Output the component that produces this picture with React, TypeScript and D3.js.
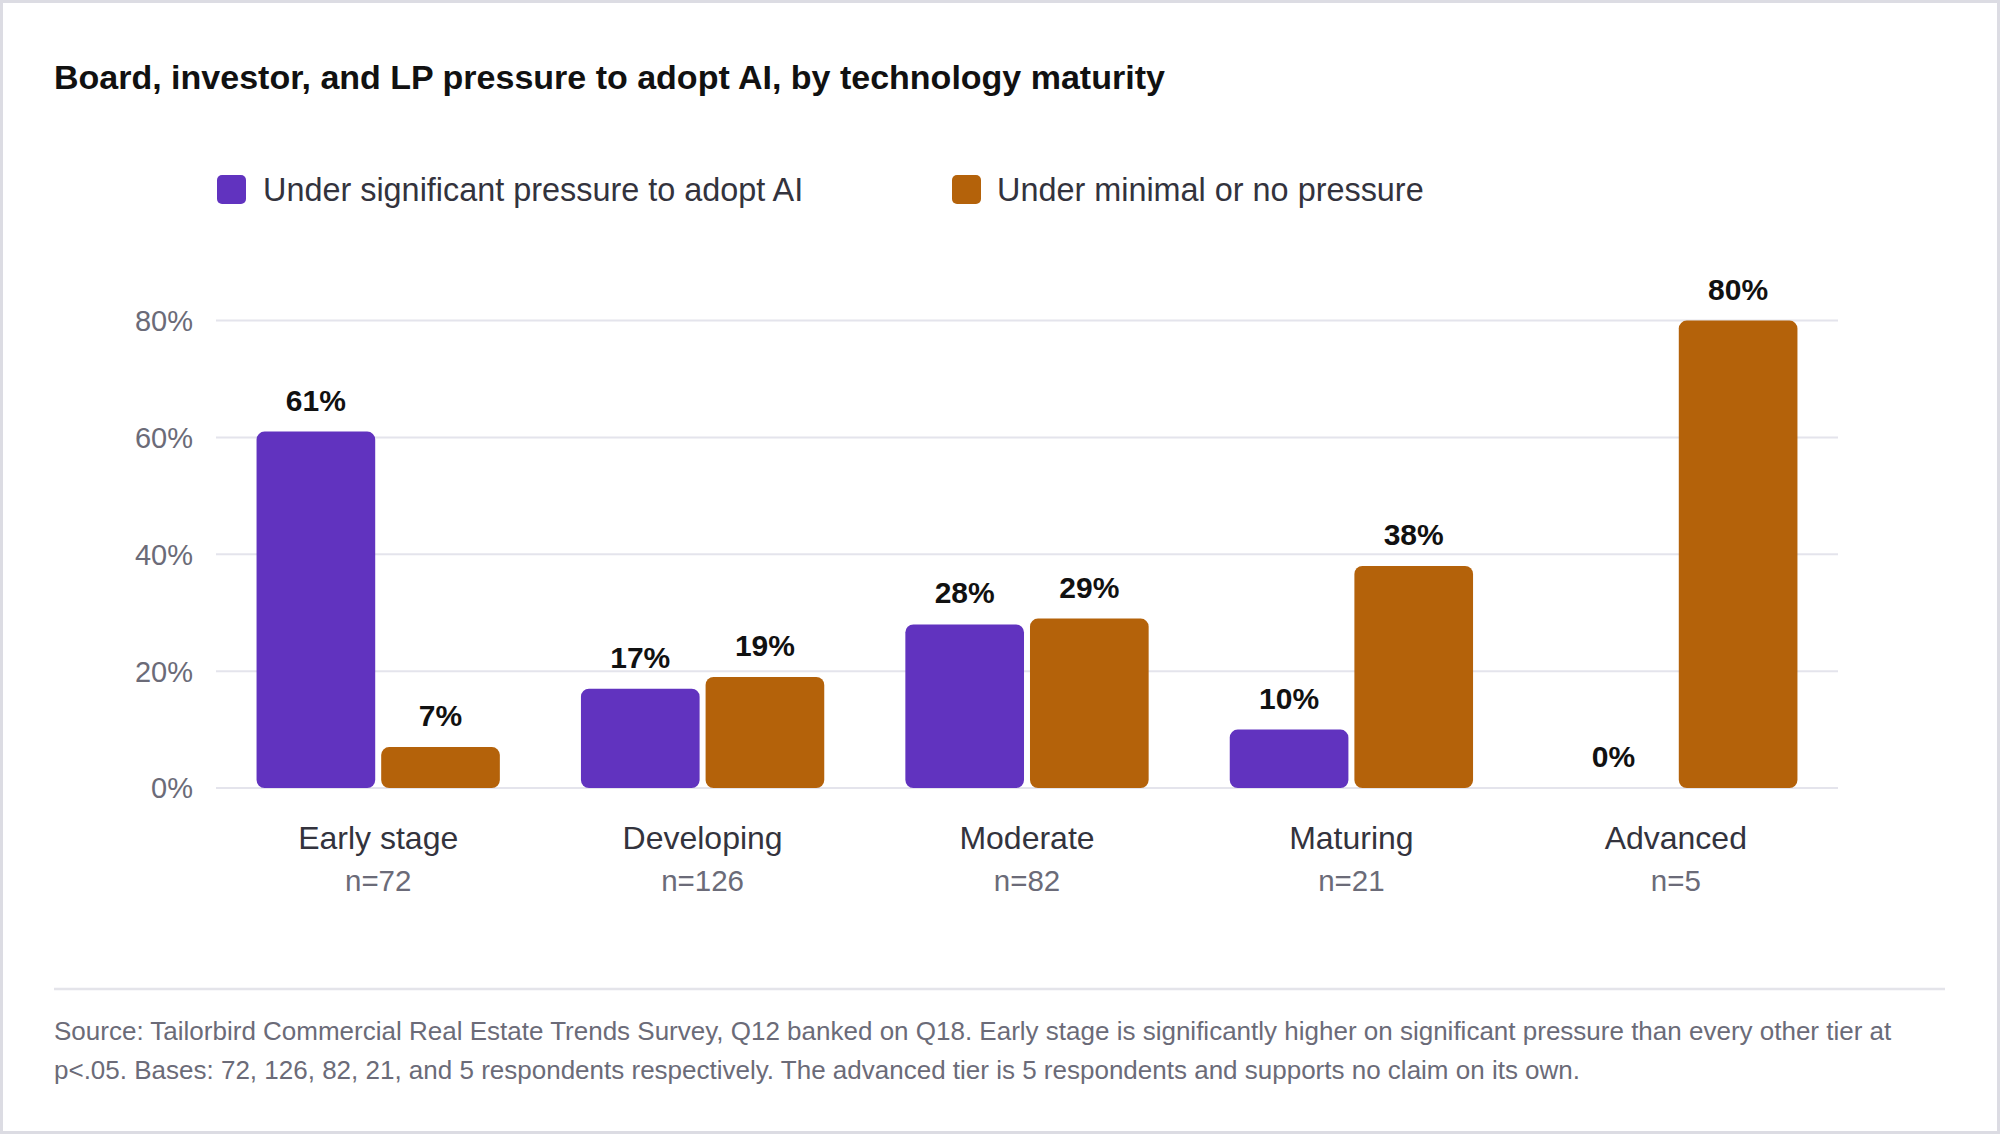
import React from "react";
import * as d3 from "d3";

const categories = ["Early stage", "Developing", "Moderate", "Maturing", "Advanced"];
const sampleSizes = ["n=72", "n=126", "n=82", "n=21", "n=5"];
const seriesNames = ["Under significant pressure to adopt AI", "Under minimal or no pressure"];
const significantPressure = [61, 17, 28, 10, 0];
const minimalPressure = [7, 19, 29, 38, 80];
const yTicks = [0, 20, 40, 60, 80];
const seriesColors = ["#6133bf", "#b4620a"];
const title = "Board, investor, and LP pressure to adopt AI, by technology maturity";
const sourceLines = [
  "Source: Tailorbird Commercial Real Estate Trends Survey, Q12 banked on Q18. Early stage is significantly higher on significant pressure than every other tier at",
  "p<.05. Bases: 72, 126, 82, 21, and 5 respondents respectively. The advanced tier is 5 respondents and supports no claim on its own.",
];

const W = 2000;
const H = 1134;
const FONT = "'Liberation Sans', Arial, Helvetica, sans-serif";

export default function App() {
  const plotLeft = 216;
  const plotRight = 1838;
  const y0 = 788;
  const y80 = 320.6;

  const x0 = d3.scaleBand<string>().domain(categories).range([plotLeft, plotRight]).padding(0);
  const bw = x0.bandwidth();
  const x1 = d3
    .scaleBand<string>()
    .domain(seriesNames)
    .range([bw * 0.125, bw * 0.875])
    .paddingInner(0.048)
    .paddingOuter(0);
  const y = d3.scaleLinear().domain([0, 80]).range([y0, y80]);

  const seriesValues = [significantPressure, minimalPressure];

  return (
    <svg
      width={W}
      height={H}
      viewBox={`0 0 ${W} ${H}`}
      style={{ position: "absolute", left: 0, top: 0, display: "block" }}
      fontFamily={FONT}
    >
      <rect x={0} y={0} width={W} height={H} fill="#ffffff" />
      <rect x={1.5} y={1.5} width={W - 3} height={H - 3} fill="none" stroke="#dcdce3" strokeWidth={3} />

      <text x={54} y={89} fontSize={34} fontWeight={700} fill="#111111">
        {title}
      </text>

      {/* Legend */}
      <g>
        <rect x={217} y={175} width={29} height={29} rx={5} fill={seriesColors[0]} />
        <text x={263} y={201} fontSize={32.4} fill="#33333d">
          {seriesNames[0]}
        </text>
        <rect x={952} y={175} width={29} height={29} rx={5} fill={seriesColors[1]} />
        <text x={997} y={201} fontSize={32.4} fill="#33333d">
          {seriesNames[1]}
        </text>
      </g>

      {/* Gridlines */}
      {yTicks.map((t) => (
        <g key={t}>
          <line x1={plotLeft} x2={plotRight} y1={y(t)} y2={y(t)} stroke="#e4e4ec" strokeWidth={2} />
          <text x={193} y={y(t) + 10.4} fontSize={29} fill="#6b6b78" textAnchor="end">
            {t}%
          </text>
        </g>
      ))}

      {/* Bars */}
      {categories.map((c, ci) => (
        <g key={c} transform={`translate(${x0(c)},0)`}>
          {seriesNames.map((s, si) => {
            const v = seriesValues[si][ci];
            const bx = x1(s) as number;
            const bwid = x1.bandwidth();
            const top = y(v);
            const h = y0 - top;
            return (
              <g key={s}>
                {h > 0 && (
                  <rect x={bx} y={top} width={bwid} height={h} rx={8} ry={8} fill={seriesColors[si]} />
                )}
                <text
                  x={bx + bwid / 2}
                  y={top - 21}
                  fontSize={30}
                  fontWeight={700}
                  fill="#111111"
                  textAnchor="middle"
                >
                  {v}%
                </text>
              </g>
            );
          })}
          <text x={bw / 2} y={849} fontSize={32} fill="#33333d" textAnchor="middle">
            {c}
          </text>
          <text x={bw / 2} y={891} fontSize={29.5} fill="#6b6b78" textAnchor="middle">
            {sampleSizes[ci]}
          </text>
        </g>
      ))}

      {/* Footer */}
      <line x1={54} x2={1945} y1={989} y2={989} stroke="#e4e4ea" strokeWidth={2.5} />
      {sourceLines.map((l, i) => (
        <text key={i} x={54} y={1040 + i * 39} fontSize={26} fill="#6b6b78">
          {l}
        </text>
      ))}
    </svg>
  );
}
